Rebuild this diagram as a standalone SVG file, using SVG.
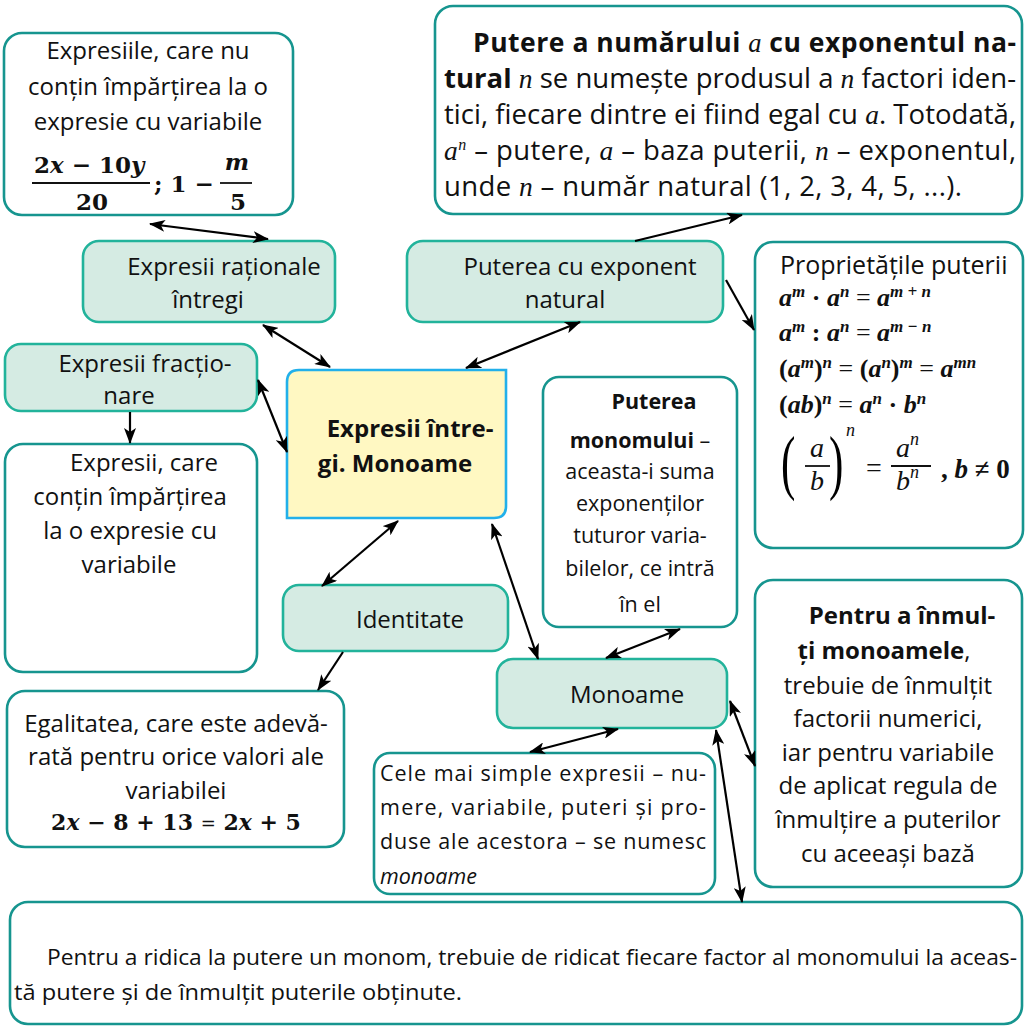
<svg xmlns="http://www.w3.org/2000/svg" width="1028" height="1028" viewBox="0 0 1028 1028">
  <style>
    .t { font-family: "Open Sans", Lato, "Liberation Sans", sans-serif; font-size: 24px; fill: #111; }
    .s { font-size: 21.5px; }
    .b { font-weight: bold; }
    .it { font-style: italic; }
    .m { font-family: "Liberation Serif", "DejaVu Serif", serif; font-style: italic; font-weight: normal; }
    .mb { font-family: "Liberation Serif", "DejaVu Serif", serif; font-weight: bold; fill: #111; }
    .mi { font-style: italic; }
    .cm { font-family: "DejaVu Serif", "Liberation Serif", serif; font-weight: bold; fill: #111; }
    .c { text-anchor: middle; }
    .green { fill: #d5ebe3; stroke: #22b39b; stroke-width: 2.6; }
    .white { fill: #ffffff; stroke: #16958f; stroke-width: 2.6; }
    .core { fill: #fff8c2; stroke: #22b0ea; stroke-width: 2.6; }
    .bar { stroke: #111; stroke-width: 1.8; }
    #connectors line { stroke: #000; stroke-width: 2.2; }
  </style>
  <defs>
    <marker id="ah" viewBox="0 0 16 12" refX="15" refY="6" markerWidth="16" markerHeight="12" markerUnits="userSpaceOnUse" orient="auto-start-reverse">
      <path d="M0,0 L16,6 L0,12 L4,6 z" fill="#000"/>
    </marker>
  </defs>
  <rect width="1028" height="1028" fill="#ffffff"/>

  <!-- definition of integer rational expressions -->
  <g id="def-integer">
    <rect class="white" x="4" y="33" width="289" height="182" rx="18"/>
    <text class="t c" x="148" y="59">Expresiile, care nu</text>
    <text class="t c" x="148" y="95">conțin împărțirea la o</text>
    <text class="t c" x="148" y="130">expresie cu variabile</text>
    <text class="cm" x="34" y="173" font-size="23">2<tspan class="mi">x</tspan> − 10<tspan class="mi">y</tspan></text>
    <line class="bar" x1="32" y1="183" x2="150" y2="183"/>
    <text class="cm c" x="92" y="210" font-size="23">20</text>
    <text class="cm" x="154" y="192" font-size="23">; 1 −</text>
    <text class="cm c mi" x="237" y="170" font-size="23">m</text>
    <line class="bar" x1="220" y1="183" x2="252" y2="183"/>
    <text class="cm c" x="238" y="210" font-size="23">5</text>
  </g>

  <!-- definition of a power -->
  <g id="def-power">
    <rect class="white" x="435" y="6" width="587" height="208" rx="18"/>
    <text class="t" x="473" y="52" style="font-size:26.5px" textLength="543" lengthAdjust="spacing"><tspan class="b">Putere a numărului </tspan><tspan class="m">a</tspan><tspan class="b"> cu exponentul na-</tspan></text>
    <text class="t" x="444" y="88" style="font-size:27.5px" textLength="572" lengthAdjust="spacing"><tspan class="b">tural</tspan> <tspan class="m">n</tspan> se numește produsul a <tspan class="m">n</tspan> factori iden-</text>
    <text class="t" x="444" y="124" style="font-size:27.5px" textLength="572" lengthAdjust="spacing">tici, fiecare dintre ei fiind egal cu <tspan class="m">a</tspan>. Totodată,</text>
    <text class="t" x="444" y="160" style="font-size:27.5px" textLength="572" lengthAdjust="spacing"><tspan class="m">a</tspan><tspan class="m" font-size="16" dy="-10">n</tspan><tspan dy="10"> – putere, </tspan><tspan class="m">a</tspan> – baza puterii, <tspan class="m">n</tspan> – exponentul,</text>
    <text class="t" x="444" y="196" style="font-size:27.5px" textLength="518" lengthAdjust="spacing">unde <tspan class="m">n</tspan> – număr natural (1, 2, 3, 4, 5, ...).</text>
  </g>

  <!-- topic nodes -->
  <g id="node-rational">
    <rect class="green" x="83" y="241" width="252" height="81" rx="16"/>
    <text class="t c" x="224" y="275">Expresii raționale</text>
    <text class="t c" x="208" y="308">întregi</text>
  </g>

  <g id="node-natural-power">
    <rect class="green" x="407" y="241" width="316" height="81" rx="16"/>
    <text class="t c" x="580" y="275">Puterea cu exponent</text>
    <text class="t c" x="565" y="308">natural</text>
  </g>

  <g id="node-fractional">
    <rect class="green" x="5" y="344" width="252" height="67" rx="16"/>
    <text class="t c" x="145" y="372">Expresii fracțio-</text>
    <text class="t c" x="129" y="404">nare</text>
  </g>

  <g id="node-core">
    <path class="core" d="M299,370 H506 V506 Q506,518 494,518 H287 V382 Q287,370 299,370 Z"/>
    <text class="t c b" x="410" y="437">Expresii între-</text>
    <text class="t c b" x="395" y="472">gi. Monoame</text>
  </g>

  <!-- definition of fractional expressions -->
  <g id="def-fractional">
    <rect class="white" x="5" y="444" width="252" height="228" rx="18"/>
    <text class="t c" x="144" y="471">Expresii, care</text>
    <text class="t c" x="130" y="505">conțin împărțirea</text>
    <text class="t c" x="130" y="539">la o expresie cu</text>
    <text class="t c" x="129" y="573">variabile</text>
  </g>

  <!-- power properties -->
  <g id="def-properties">
    <rect class="white" x="755" y="242" width="268" height="306" rx="18"/>
    <text class="t" x="780" y="274" style="font-size:25px">Proprietățile puterii</text>
    <g class="mb" font-size="26">
      <text x="779" y="306"><tspan class="mi">a</tspan><tspan class="mi" font-size="17" dy="-9">m</tspan><tspan dy="9"> · </tspan><tspan class="mi">a</tspan><tspan class="mi" font-size="17" dy="-9">n</tspan><tspan dy="9" font-weight="normal"> = </tspan><tspan class="mi">a</tspan><tspan class="mi" font-size="17" dy="-9">m + n</tspan></text>
      <text x="779" y="341"><tspan class="mi">a</tspan><tspan class="mi" font-size="17" dy="-9">m</tspan><tspan dy="9"> : </tspan><tspan class="mi">a</tspan><tspan class="mi" font-size="17" dy="-9">n</tspan><tspan dy="9" font-weight="normal"> = </tspan><tspan class="mi">a</tspan><tspan class="mi" font-size="17" dy="-9">m − n</tspan></text>
      <text x="779" y="377">(<tspan class="mi">a</tspan><tspan class="mi" font-size="17" dy="-9">m</tspan><tspan dy="9">)</tspan><tspan class="mi" font-size="17" dy="-9">n</tspan><tspan dy="9" font-weight="normal"> = </tspan>(<tspan class="mi">a</tspan><tspan class="mi" font-size="17" dy="-9">n</tspan><tspan dy="9">)</tspan><tspan class="mi" font-size="17" dy="-9">m</tspan><tspan dy="9" font-weight="normal"> = </tspan><tspan class="mi">a</tspan><tspan class="mi" font-size="17" dy="-9">mn</tspan></text>
      <text x="779" y="413">(<tspan class="mi">ab</tspan>)<tspan class="mi" font-size="17" dy="-9">n</tspan><tspan dy="9" font-weight="normal"> = </tspan><tspan class="mi">a</tspan><tspan class="mi" font-size="17" dy="-9">n</tspan><tspan dy="9"> · </tspan><tspan class="mi">b</tspan><tspan class="mi" font-size="17" dy="-9">n</tspan></text>
    </g>
    <text x="0" y="0" font-family="'Liberation Serif', serif" font-size="72" transform="translate(781,486) scale(0.6,1)">(</text>
    <text class="m c" x="817" y="457" font-size="28" fill="#111">a</text>
    <line class="bar" x1="805" y1="466" x2="830" y2="466"/>
    <text class="m c" x="817" y="490" font-size="28" fill="#111">b</text>
    <text x="0" y="0" font-family="'Liberation Serif', serif" font-size="72" transform="translate(829,486) scale(0.6,1)">)</text>
    <text class="m" x="846" y="436" font-size="18" fill="#111">n</text>
    <text x="874" y="477" font-family="'Liberation Serif', serif" font-size="28" text-anchor="middle" fill="#111">=</text>
    <text class="m" x="896" y="457" font-size="28" fill="#111">a<tspan font-size="18" dy="-12">n</tspan></text>
    <line class="bar" x1="891" y1="466" x2="931" y2="466"/>
    <text class="m" x="896" y="490" font-size="28" fill="#111">b<tspan font-size="18" dy="-12">n</tspan></text>
    <text class="mb" x="941" y="478" font-size="27">, <tspan class="mi">b</tspan> ≠ 0</text>
  </g>

  <!-- degree of a monomial -->
  <g id="def-degree">
    <rect class="white" x="543" y="377" width="194" height="250" rx="16"/>
    <text class="t s c b" x="654" y="409">Puterea</text>
    <text class="t s c" x="640" y="448"><tspan class="b">monomului</tspan> –</text>
    <text class="t s c" x="640" y="479">aceasta-i suma</text>
    <text class="t s c" x="640" y="511">exponenților</text>
    <text class="t s c" x="640" y="543">tuturor varia-</text>
    <text class="t s c" x="640" y="576">bilelor, ce intră</text>
    <text class="t s c" x="640" y="612">în el</text>
  </g>

  <g id="node-identity">
    <rect class="green" x="283" y="585" width="225" height="66" rx="16"/>
    <text class="t c" x="410" y="628">Identitate</text>
  </g>

  <!-- definition of an identity -->
  <g id="def-identity">
    <rect class="white" x="7" y="691" width="337" height="156" rx="18"/>
    <text class="t c" x="176" y="732">Egalitatea, care este adevă-</text>
    <text class="t c" x="176" y="765">rată pentru orice valori ale</text>
    <text class="t c" x="176" y="799">variabilei</text>
    <text class="cm c" x="176" y="830" font-size="22">2<tspan class="mi">x</tspan> − 8 + 13 <tspan font-weight="normal" font-size="18">=</tspan> 2<tspan class="mi">x</tspan> + 5</text>
  </g>

  <g id="node-monomials">
    <rect class="green" x="497" y="659" width="230" height="69" rx="16"/>
    <text class="t c" x="627" y="703">Monoame</text>
  </g>

  <!-- definition of a monomial -->
  <g id="def-monomial">
    <rect class="white" x="374" y="753" width="341" height="141" rx="16"/>
    <text class="t s" x="380" y="781" textLength="326" lengthAdjust="spacing">Cele mai simple expresii – nu-</text>
    <text class="t s" x="380" y="815" textLength="326" lengthAdjust="spacing">mere, variabile, puteri și pro-</text>
    <text class="t s" x="380" y="849" textLength="326" lengthAdjust="spacing">duse ale acestora – se numesc</text>
    <text class="t s it" x="380" y="884">monoame</text>
  </g>

  <!-- multiplication rule -->
  <g id="def-multiply">
    <rect class="white" x="755" y="580" width="267" height="307" rx="18"/>
    <text class="t c b" x="902" y="624">Pentru a înmul-</text>
    <text class="t c" x="884" y="659"><tspan class="b">ți monoamele</tspan>,</text>
    <text class="t c" x="888" y="694">trebuie de înmulțit</text>
    <text class="t c" x="888" y="727">factorii numerici,</text>
    <text class="t c" x="888" y="761">iar pentru variabile</text>
    <text class="t c" x="888" y="794">de aplicat regula de</text>
    <text class="t c" x="888" y="828">înmulțire a puterilor</text>
    <text class="t c" x="888" y="862">cu aceeași bază</text>
  </g>

  <!-- power of a monomial rule -->
  <g id="def-raise">
    <rect class="white" x="10" y="902" width="1012" height="122" rx="18"/>
    <text class="t" x="47" y="965" style="font-size:21.5px" textLength="970" lengthAdjust="spacingAndGlyphs">Pentru a ridica la putere un monom, trebuie de ridicat fiecare factor al monomului la aceas-</text>
    <text class="t" x="14" y="1000" style="font-size:21.5px" textLength="448" lengthAdjust="spacingAndGlyphs">tă putere și de înmulțit puterile obținute.</text>
  </g>

  <g id="connectors">
    <line x1="150" y1="224" x2="268" y2="239" marker-start="url(#ah)" marker-end="url(#ah)"/>
    <line x1="263" y1="325" x2="330" y2="367" marker-start="url(#ah)" marker-end="url(#ah)"/>
    <line x1="580" y1="322" x2="466" y2="368" marker-start="url(#ah)" marker-end="url(#ah)"/>
    <line x1="635" y1="241" x2="742" y2="215" marker-end="url(#ah)"/>
    <line x1="726" y1="280" x2="754" y2="330" marker-end="url(#ah)"/>
    <line x1="258" y1="380" x2="287" y2="452" marker-start="url(#ah)" marker-end="url(#ah)"/>
    <line x1="130" y1="412" x2="130" y2="443" marker-end="url(#ah)"/>
    <line x1="398" y1="521" x2="322" y2="586" marker-start="url(#ah)" marker-end="url(#ah)"/>
    <line x1="492" y1="524" x2="538" y2="659" marker-start="url(#ah)" marker-end="url(#ah)"/>
    <line x1="343" y1="652" x2="318" y2="690" marker-end="url(#ah)"/>
    <line x1="680" y1="629" x2="606" y2="658" marker-start="url(#ah)" marker-end="url(#ah)"/>
    <line x1="618" y1="729" x2="530" y2="752" marker-start="url(#ah)" marker-end="url(#ah)"/>
    <line x1="730" y1="701" x2="755" y2="766" marker-start="url(#ah)" marker-end="url(#ah)"/>
    <line x1="716" y1="730" x2="742" y2="902" marker-start="url(#ah)" marker-end="url(#ah)"/>
  </g>
</svg>
